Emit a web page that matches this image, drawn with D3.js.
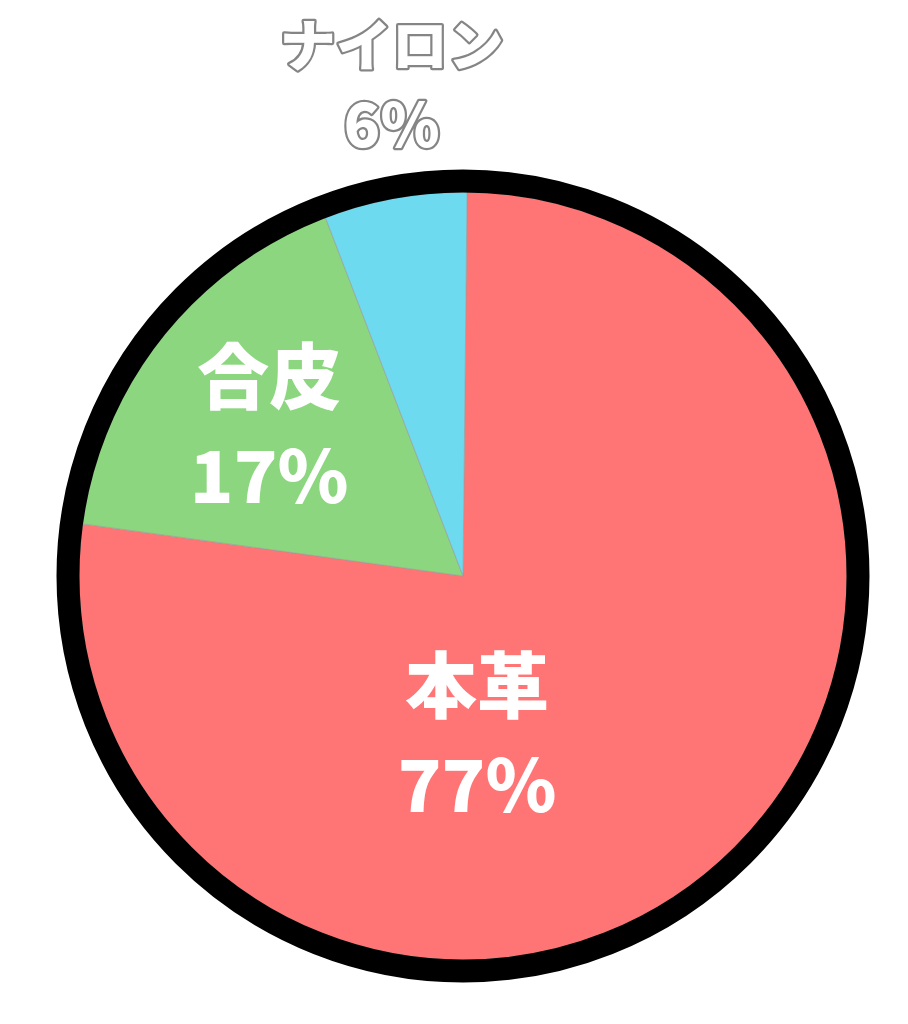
<!DOCTYPE html>
<html>
<head>
<meta charset="utf-8">
<script src="https://cdn.jsdelivr.net/npm/d3@7"></script>
<style>
  html, body { margin: 0; padding: 0; background: #ffffff; }
  svg { display: block; }
</style>
</head>
<body>
<svg id="chart" width="908" height="1024"></svg>
<script>
// ---- data ----
const categories = ["本革", "合皮", "ナイロン"];
const values = [77, 17, 6];
const percentLabels = ["77%", "17%", "6%"];
const colors = ["#FF7575", "#8BD67E", "#6DDAEF"];

// ---- layout ----
const W = 908, H = 1024;
const cx = 463, cy = 576;
const R = 384;
const ringWidth = 23;
const rotation = 0.6 * Math.PI / 180;

const svg = d3.select("#chart");
const g = svg.append("g").attr("transform", `translate(${cx},${cy})`);

const data = categories.map((c, i) => ({ name: c, value: values[i], pct: percentLabels[i], color: colors[i] }));

const pie = d3.pie().value(d => d.value).sort(null)
  .startAngle(rotation).endAngle(2 * Math.PI + rotation);
const arcs = pie(data);
const arc = d3.arc().innerRadius(0).outerRadius(R);

g.selectAll("path.slice").data(arcs).join("path")
  .attr("class", "slice")
  .attr("d", arc)
  .attr("fill", d => d.data.color)
  .attr("stroke", "#9a9a9a")
  .attr("stroke-width", 0.6);

// black ring
g.append("circle")
  .attr("r", R + ringWidth / 2 - 0.5)
  .attr("fill", "none")
  .attr("stroke", "#000")
  .attr("stroke-width", ringWidth);

// label placement per slice (polar position of the label block centre)
const labelPlacement = [
  { r: 155, angle: 174.8, lineGap: 100, size: 72, outside: false },
  { r: 248, angle: 308.6, lineGap: 100, size: 72, outside: false },
  { r: 500, angle: 351.8, lineGap: 79, size: 56, outside: true }
];

arcs.forEach((a, i) => {
  const p = labelPlacement[i];
  const ang = p.angle * Math.PI / 180;
  const x = Math.sin(ang) * p.r;
  const y = -Math.cos(ang) * p.r;
  const t = g.append("g").attr("transform", `translate(${x},${y})`);
  const lines = [a.data.name, a.data.pct];
  lines.forEach((txt, j) => {
    const el = t.append("text")
      .attr("x", 0)
      .attr("y", (j - 0.5) * p.lineGap)
      .attr("text-anchor", "middle")
      .attr("dominant-baseline", "central")
      .attr("font-family", "'Noto Sans CJK JP', 'Noto Sans', sans-serif")
      .attr("font-weight", 900)
      .attr("font-size", (j === 1 && p.outside) ? p.size + 4 : p.size)
      .attr("fill", "#ffffff")
      .text(txt);
    if (p.outside) {
      el.attr("stroke", "#858585").attr("stroke-width", 4.5).attr("paint-order", "stroke")
        .attr("stroke-linejoin", "round");
    }
  });
});
</script>
</body>
</html>
